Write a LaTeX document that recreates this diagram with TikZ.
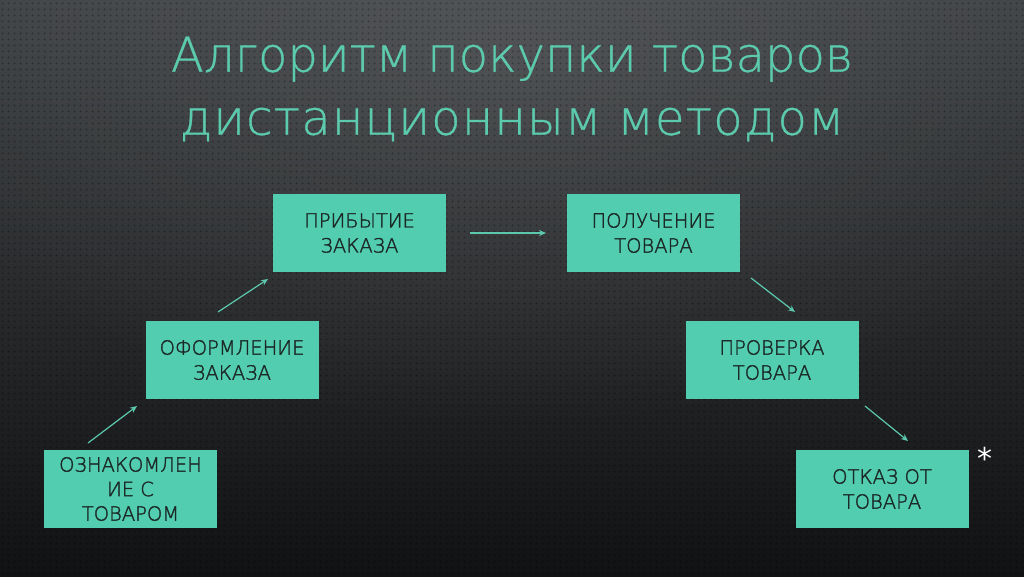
\documentclass[tikz,border=0pt]{standalone}
\usepackage{fontspec}
\setmainfont{DejaVu Sans}
\newfontfamily\titlefont[FakeBold=0.7]{DejaVu Sans ExtraLight}
\newfontfamily\boxfont[FakeBold=1.6]{DejaVu Sans ExtraLight}
\usetikzlibrary{arrows.meta,fadings,patterns}
\definecolor{bgtop}{HTML}{404346}
\definecolor{bgbot}{HTML}{111213}
\definecolor{teal}{HTML}{52CDB0}
\definecolor{titlec}{HTML}{5CCBAD}
\definecolor{boxtext}{HTML}{1B2826}
\definecolor{arrc}{HTML}{5CC9AE}
\tikzfading[name=radfade, inner color=transparent!0, outer color=transparent!100]
\pgfdeclarepatternformonly{bgdots}{\pgfpoint{0pt}{0pt}}{\pgfpoint{5.5pt}{5.5pt}}{\pgfpoint{5.5pt}{5.5pt}}%
  {\pgfpathcircle{\pgfpoint{2.75pt}{2.75pt}}{1.1pt}\pgfusepath{fill}}
\tikzset{
  stepbox/.style={fill=teal, draw=none, minimum width=173pt, minimum height=78pt,
    inner sep=0pt, align=center, text=boxtext, font=\boxfont\fontsize{19.5}{25}\selectfont},
  conn/.style={draw=arrc, line width=1.2pt, -{Stealth[length=7pt,width=6pt]}},
}
\begin{document}
\begin{tikzpicture}[x=1pt,y=-1pt]
\useasboundingbox (0,0) rectangle (1024,576);
\shade[top color=bgtop, bottom color=bgbot] (0,0) rectangle (1024,576);
\fill[white, opacity=0.10, path fading=radfade] (512,60) ellipse (650 and 380);
\fill[pattern=bgdots, pattern color=black, opacity=0.30] (0,0) rectangle (1024,576);
\node[text=titlec, font=\titlefont\fontsize{48}{62}\selectfont, align=center] (title) at (512,89)
  {Алгоритм покупки товаров\\[1pt]{\addfontfeatures{LetterSpace=2.5}дистанционным методом}};
\node[stepbox, font=\boxfont\fontsize{19.5}{24.5}\selectfont] (b1) at (130.5,489) {ОЗНАКОМЛЕН\\ИЕ С\\ТОВАРОМ};
\node[stepbox] (b2) at (232,360) {ОФОРМЛЕНИЕ\\ЗАКАЗА};
\node[stepbox] (b3) at (359.5,233) {ПРИБЫТИЕ\\ЗАКАЗА};
\node[stepbox] (b4) at (653.5,233) {ПОЛУЧЕНИЕ\\ТОВАРА};
\node[stepbox] (b5) at (772,360) {ПРОВЕРКА\\ТОВАРА};
\node[stepbox] (b6) at (882,489) {ОТКАЗ ОТ\\ТОВАРА};
\node[text=white, font=\fontsize{30}{30}\selectfont] (ast) at (985,458) {*};
\coordinate (a1s) at (88,443); \coordinate (a1e) at (137,406);
\coordinate (a2s) at (218,312); \coordinate (a2e) at (268,279);
\coordinate (a3s) at (470,233); \coordinate (a3e) at (546,233);
\coordinate (a4s) at (751,278); \coordinate (a4e) at (795,312);
\coordinate (a5s) at (865,406); \coordinate (a5e) at (908,441);
\draw[conn] (a1s) -- (a1e);
\draw[conn] (a2s) -- (a2e);
\draw[conn] (a3s) -- (a3e);
\draw[conn] (a4s) -- (a4e);
\draw[conn] (a5s) -- (a5e);
\end{tikzpicture}
\end{document}
